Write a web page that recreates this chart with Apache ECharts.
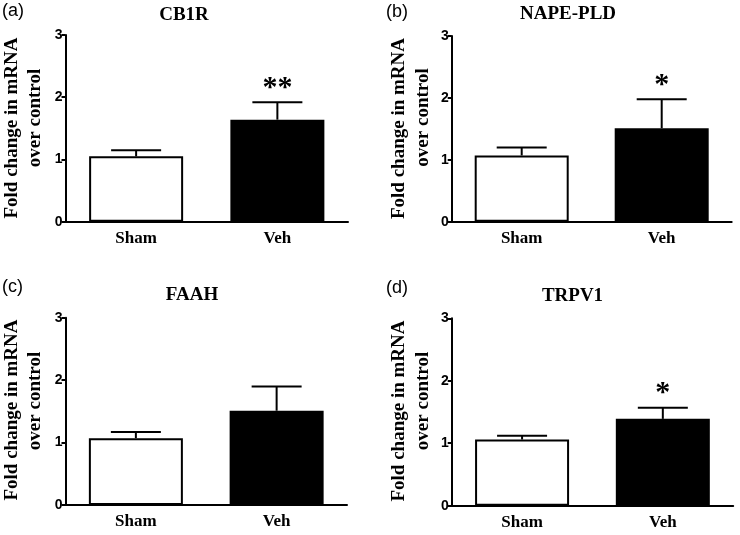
<!DOCTYPE html>
<html>
<head>
<meta charset="utf-8">
<script src="https://cdn.jsdelivr.net/npm/echarts@6/dist/echarts.min.js"></script>
<style>
html,body{margin:0;padding:0;background:#fff;}
#chart{width:740px;height:535px;}
</style>
</head>
<body>
<div id="chart"></div>
<script>
// ---- data ----
const categories = ['Sham', 'Veh'];
const panelTitles = ['CB1R', 'NAPE-PLD', 'FAAH', 'TRPV1'];
const panelLabels = ['(a)', '(b)', '(c)', '(d)'];
const yTicks = [0, 1, 2, 3];
const yAxisLine1 = 'Fold change in mRNA';
const yAxisLine2 = 'over control';

const cb1rMean = [1.05, 1.64];
const cb1rErr = [0.10, 0.28];
const napeMean = [1.07, 1.51];
const napeErr = [0.13, 0.47];
const faahMean = [1.07, 1.51];
const faahErr = [0.10, 0.39];
const trpv1Mean = [1.06, 1.39];
const trpv1Err = [0.06, 0.18];

const cb1rStars = ['', '**'];
const napeStars = ['', '*'];
const faahStars = ['', ''];
const trpv1Stars = ['', '*'];

const means = [cb1rMean, napeMean, faahMean, trpv1Mean];
const errs = [cb1rErr, napeErr, faahErr, trpv1Err];
const stars = [cb1rStars, napeStars, faahStars, trpv1Stars];

// ---- layout ----
const grids = [
  {left: 65.5, top: 35, width: 282.5, height: 186.7},
  {left: 451.7, top: 36, width: 280, height: 185.7},
  {left: 65.5, top: 317.7, width: 281.5, height: 187.3},
  {left: 451.7, top: 318.3, width: 281.5, height: 187.4}
];
const titlePos = [[184, 15], [568, 14], [192, 295], [572.5, 296]];
const labelPos = [[2, 11], [386, 12], [2, 287], [386, 288]];
const yName1Pos = [[12.5, 128], [399, 128.5], [12.5, 410], [399, 411]];
const yName2Pos = [[35, 118], [423, 117.5], [35, 401], [423, 401]];

const serif = '"Liberation Serif", "Times New Roman", serif';
const sans = '"Liberation Sans", Arial, sans-serif';

const xAxes = [], yAxes = [], series = [], graphics = [];
for (let i = 0; i < 4; i++) {
  xAxes.push({
    type: 'category', gridIndex: i, data: categories,
    axisLine: {lineStyle: {color: '#000', width: 2}},
    axisTick: {show: false},
    axisLabel: {color: '#000', fontFamily: serif, fontWeight: 'bold', fontSize: 17, margin: 8}
  });
  yAxes.push({
    type: 'value', gridIndex: i, min: yTicks[0], max: yTicks[yTicks.length - 1], interval: 1,
    axisLine: {show: true, lineStyle: {color: '#000', width: 2}},
    axisTick: {show: true, length: 4, lineStyle: {color: '#000', width: 2}},
    splitLine: {show: false},
    axisLabel: {color: '#000', fontFamily: sans, fontWeight: 'bold', fontSize: 14, margin: 3}
  });
  series.push({
    type: 'bar', xAxisIndex: i, yAxisIndex: i, barWidth: 94, silent: true,
    data: means[i].map((v, j) => ({
      value: v,
      itemStyle: {color: j === 0 ? '#fff' : '#000', borderColor: '#000', borderWidth: 2}
    }))
  });
  const st = stars[i];
  series.push({
    type: 'custom', xAxisIndex: i, yAxisIndex: i, silent: true, z: 5,
    data: means[i].map((v, j) => [j, v, errs[i][j]]),
    renderItem: function (params, api) {
      const idx = api.value(0), m = api.value(1), e = api.value(2);
      const base = api.coord([idx, m]);
      const top = api.coord([idx, m + e]);
      const half = 25;
      const children = [
        {type: 'line', shape: {x1: base[0], y1: base[1], x2: top[0], y2: top[1]},
         style: {stroke: '#000', lineWidth: 2}},
        {type: 'line', shape: {x1: top[0] - half, y1: top[1], x2: top[0] + half, y2: top[1]},
         style: {stroke: '#000', lineWidth: 2}}
      ];
      const s = st[params.dataIndex];
      if (s) {
        children.push({type: 'text', x: top[0], y: top[1] + 1,
          style: {text: s, font: 'bold 30px ' + serif, fill: '#000', textAlign: 'center', textVerticalAlign: 'bottom'}});
      }
      return {type: 'group', children: children};
    }
  });
  graphics.push({type: 'text', x: titlePos[i][0], y: titlePos[i][1],
    style: {text: panelTitles[i], font: 'bold 19px ' + serif, fill: '#000', textAlign: 'center', textVerticalAlign: 'middle'}});
  graphics.push({type: 'text', x: labelPos[i][0], y: labelPos[i][1],
    style: {text: panelLabels[i], font: '18px ' + sans, fill: '#000', textAlign: 'left', textVerticalAlign: 'middle'}});
  graphics.push({type: 'text', x: yName1Pos[i][0], y: yName1Pos[i][1], rotation: Math.PI / 2,
    style: {text: yAxisLine1, font: 'bold 19px ' + serif, fill: '#000', textAlign: 'center', textVerticalAlign: 'middle'}});
  graphics.push({type: 'text', x: yName2Pos[i][0], y: yName2Pos[i][1], rotation: Math.PI / 2,
    style: {text: yAxisLine2, font: 'bold 19px ' + serif, fill: '#000', textAlign: 'center', textVerticalAlign: 'middle'}});
}

const chart = echarts.init(document.getElementById('chart'), null, {renderer: 'canvas'});
chart.setOption({
  backgroundColor: '#fff',
  animation: false,
  grid: grids,
  xAxis: xAxes,
  yAxis: yAxes,
  series: series,
  graphic: graphics
});
</script>
</body>
</html>
